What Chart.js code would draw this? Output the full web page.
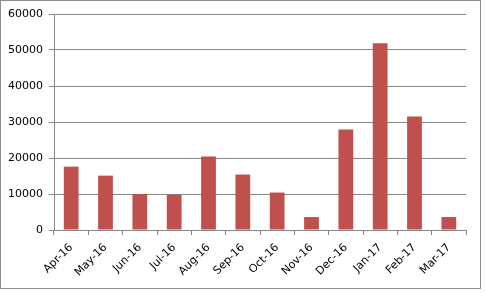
<!DOCTYPE html>
<html>
<head>
<meta charset="utf-8">
<script src="https://cdn.jsdelivr.net/npm/chart.js@4/dist/chart.umd.min.js"></script>
<style>
html,body{margin:0;padding:0;background:#fff;}
canvas{display:block;}
</style>
</head>
<body>
<canvas id="c" width="485" height="293"></canvas>
<script>
const categories = ["Apr-16","May-16","Jun-16","Jul-16","Aug-16","Sep-16","Oct-16","Nov-16","Dec-16","Jan-17","Feb-17","Mar-17"];
const values = [17600, 15100, 10000, 9800, 20400, 15400, 10400, 3600, 27900, 51900, 31500, 3600];
const yMin = 0, yMax = 60000, yStep = 10000;

const frame = {
  id: 'frame',
  beforeDraw(chart) {
    const ctx = chart.ctx;
    ctx.save();
    ctx.fillStyle = '#fff';
    ctx.fillRect(0, 0, chart.width, chart.height);
    ctx.strokeStyle = '#8c8c8c';
    ctx.lineWidth = 1;
    ctx.strokeRect(0.5, 0.5, 480, 288);
    ctx.restore();
  }
};

const font = { family: "'DejaVu Sans', sans-serif", size: 11 };

new Chart(document.getElementById('c'), {
  type: 'bar',
  data: {
    labels: categories,
    datasets: [{
      data: values,
      backgroundColor: '#C0504D',
      borderWidth: 0,
      categoryPercentage: 1,
      barPercentage: 0.43
    }]
  },
  options: {
    responsive: false,
    animation: false,
    events: [],
    layout: { padding: { left: 0, right: 19, top: 14, bottom: 0 } },
    plugins: { legend: { display: false }, tooltip: { enabled: false } },
    scales: {
      x: {
        offset: true,
        grid: { display: true, drawOnChartArea: false, drawTicks: true, tickLength: 5, offset: true, color: '#868686' },
        border: { display: true, color: '#868686' },
        ticks: { color: '#000', font: font, minRotation: 45, maxRotation: 45, autoSkip: false, padding: 6 },
        afterFit(s) { s.height = 63; }
      },
      y: {
        min: yMin, max: yMax,
        grid: { color: '#868686', drawTicks: true, tickLength: 5 },
        border: { display: true, color: '#868686' },
        ticks: { stepSize: yStep, color: '#000', font: font, padding: 6, callback: v => String(v) },
        afterFit(s) { s.width = 54; }
      }
    }
  },
  plugins: [frame]
});
</script>
</body>
</html>
